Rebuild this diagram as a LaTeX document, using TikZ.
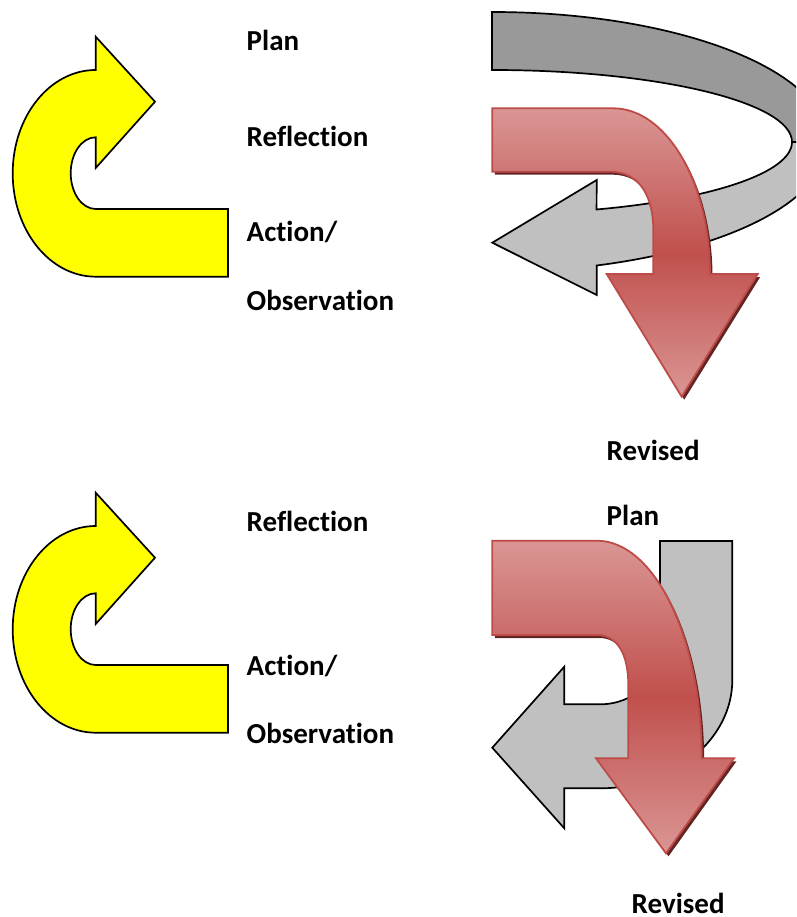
\documentclass[tikz,border=0pt]{standalone}
\usepackage{fontspec}
\setmainfont[Ligatures=NoCommon]{Carlito}
\definecolor{yel}{RGB}{255,255,0}
\definecolor{gdark}{RGB}{153,153,153}
\definecolor{glight}{RGB}{192,192,192}
\definecolor{rlight}{RGB}{218,150,148}
\definecolor{rmid}{RGB}{192,80,77}
\definecolor{rline}{RGB}{190,75,72}
\definecolor{rshadow}{RGB}{99,37,35}
\begin{document}
\begin{tikzpicture}[x=1pt,y=1pt,
  yarrow/.style={fill=yel,draw=black,line width=1.7pt,line join=miter},
  gdarkband/.style={fill=gdark,draw=black,line width=1.7pt},
  glightband/.style={fill=glight,draw=black,line width=1.7pt},
  rarrow/.style={top color=rlight,bottom color=rlight,middle color=rmid,draw=rline,line width=1.8pt},
  rshad/.style={fill=rshadow},
  lbl/.style={anchor=base west,inner sep=0pt,font=\fontsize{29}{34}\selectfont\bfseries}]
\useasboundingbox (0,0) rectangle (796,-917);
\clip (0,0) rectangle (796,-917);

% ---------- paths ----------
\def\yellowpath{(228,-209) -- (95.7,-209) arc[start angle=270,end angle=90,x radius=25,y radius=35.85]
  -- (95.7,-168) -- (155,-101.7) -- (95.7,-36.7) -- (95.7,-70)
  arc[start angle=90,end angle=270,x radius=83,y radius=103.35] -- (228,-276.7) -- cycle}
\def\redtop{(492.3,-108.3) -- (613,-108.3) arc[start angle=90,end angle=0,x radius=97,y radius=165.7]
  -- (757.7,-274) -- (681.7,-396.7) -- (606.7,-274) -- (653.3,-274) -- (653.3,-230)
  .. controls (653.3,-200) and (642,-171.7) .. (610,-171.7) -- (492.3,-171.7) -- cycle}
\def\redbot{(492.3,-540.7) -- (596.7,-540.7) arc[start angle=90,end angle=0,x radius=105,y radius=217.6]
  -- (734,-758.3) -- (666,-853.3) -- (596,-758.3) -- (628.3,-758.3) -- (628.3,-685)
  .. controls (628.3,-655) and (618,-635) .. (596.7,-635) -- (492.3,-635) -- cycle}

% ---------- top group ----------
\path[yarrow] \yellowpath;
\path[gdarkband] (492,-12) arc[start angle=90,end angle=0,x radius=335.5,y radius=130]
  -- (792,-142) arc[start angle=0,end angle=90,x radius=300,y radius=72] -- cycle;
\path[glightband] (792,-142) arc[start angle=0,end angle=-69.6,x radius=300,y radius=72]
  -- (596.7,-180) -- (492.3,-242.7) -- (596.7,-295) -- (596.7,-265.5)
  arc[start angle=-71.8,end angle=0,x radius=335.5,y radius=130] -- cycle;
\fill[rshad,shift={(2.5,-3)}] \redtop;
\path[rarrow] \redtop;

\node[lbl] (plan1) at (246.5,-50.7) {Plan};
\node[lbl] (refl1) at (246.5,-146.7) {Reflection};
\node[lbl] (act1) at (246.5,-241.7) {Action/};
\node[lbl] (obs1) at (246.5,-310) {Observation};
\node[lbl] (rev1) at (606.5,-460) {Revised};
\node[lbl] (rplan1) at (606.5,-525) {Plan};

% ---------- bottom group ----------
\begin{scope}[yshift=-456]
\path[yarrow] \yellowpath;
\end{scope}
\path[glightband] (660,-541) -- (732.3,-541) -- (732.3,-680)
  arc[start angle=0,end angle=-90,x radius=132.3,y radius=108.3]
  -- (564.3,-788.3) -- (564.3,-828.3) -- (492.3,-747.7) -- (564.3,-666.7) -- (564.3,-704.3)
  -- (600,-704.3) arc[start angle=-90,end angle=0,x radius=60,y radius=54.3] -- cycle;
\fill[rshad,shift={(2.5,-3)}] \redbot;
\path[rarrow] \redbot;

\node[lbl] (refl2) at (246.5,-531.7) {Reflection};
\node[lbl] (act2) at (246.5,-675.7) {Action/};
\node[lbl] (obs2) at (246.5,-743.3) {Observation};
\node[lbl] (rev2) at (631.5,-913) {Revised};
\end{tikzpicture}
\end{document}
